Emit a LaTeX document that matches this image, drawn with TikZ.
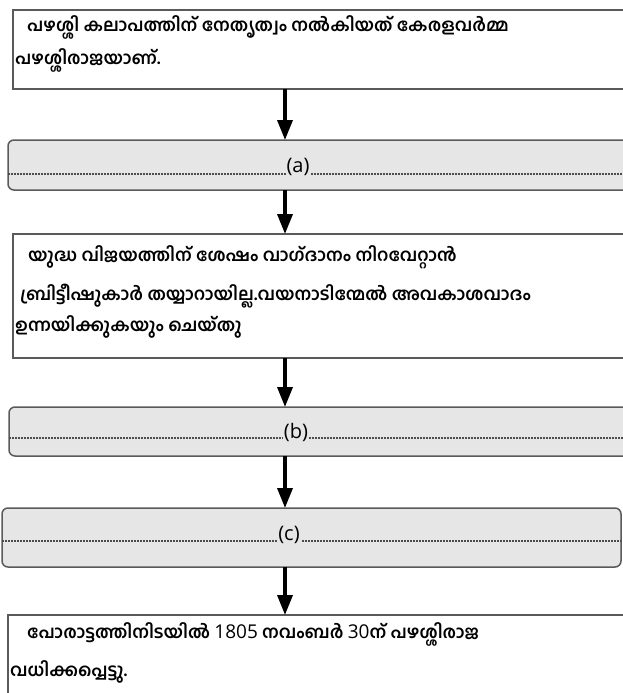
\documentclass[tikz,border=0pt]{standalone}
\usepackage{fontspec}
\newfontfamily\ml[Script=Malayalam]{Hind Kochi}
\newfontfamily\numf{Open Sans}
\usetikzlibrary{arrows.meta}
\definecolor{boxgray}{HTML}{E6E6E6}
\definecolor{edge}{HTML}{5A5A5A}
\newcommand{\nm}[1]{{\numf\mdseries\fontsize{19}{20}\selectfont #1}}
\begin{document}
\begin{tikzpicture}[x=1pt,y=-1pt,
  plainbox/.style={draw=edge,line width=1.5pt,fill=white,rectangle,inner sep=0pt,outer sep=0pt,anchor=north west},
  graybox/.style={draw=edge,line width=1.5pt,fill=boxgray,rectangle,rounded corners=6pt,inner sep=0pt,outer sep=0pt,anchor=north west},
  txt/.style={anchor=base west,inner sep=0pt,font=\ml\bfseries\fontsize{17.5}{20}\selectfont},
  lbl/.style={inner sep=0pt,font=\numf\fontsize{20}{22}\selectfont},
  dotline/.style={draw=black!70,line width=1.3pt,dash pattern=on 1.5pt off 1.5pt},
  arr/.style={line width=3.5pt,-{Triangle[width=15pt,length=20pt]}}]
\useasboundingbox (0,0) rectangle (623,693);
\clip (0,0) rectangle (623,693);
% boxes
\node[plainbox,minimum width=620pt,minimum height=79pt] (b1) at (13,10) {};
\node[graybox,minimum width=630pt,minimum height=50pt] (ba) at (8,140) {};
\node[plainbox,minimum width=620pt,minimum height=124pt] (b2) at (13,234) {};
\node[graybox,minimum width=630pt,minimum height=49pt] (bb) at (9,407) {};
\node[graybox,minimum width=619pt,minimum height=59pt] (bc) at (2,508) {};
\node[plainbox,minimum width=620pt,minimum height=90pt] (b3) at (8,615) {};
% arrow axis
\coordinate (ax) at (285,0);
\draw[arr] (b1.south west -| ax) -- (ba.north west -| ax);
\draw[arr] (ba.south west -| ax) -- (b2.north west -| ax);
\draw[arr] (b2.south west -| ax) -- (bb.north west -| ax);
\draw[arr] (bb.south west -| ax) -- (bc.north west -| ax);
\draw[arr] (bc.south west -| ax) -- (b3.north west -| ax);
% text box 1
\node[txt] (t11) at (27,32) {പഴശ്ശി കലാപത്തിന് നേതൃത്വം നൽകിയത് കേരളവർമ്മ};
\node[txt] (t12) at (15,65) {പഴശ്ശിരാജയാണ്.};
% box a
\coordinate (da) at (8,174);
\draw[dotline] (da) -- (623,174);
\node[lbl,fill=boxgray,inner xsep=1pt] (la) at (298,167) {(a)};
% text box 2
\node[txt] (t21) at (28,261) {യുദ്ധ വിജയത്തിന് ശേഷം വാഗ്ദാനം നിറവേറ്റാൻ};
\node[txt] (t22) at (20,300) {ബ്രിട്ടീഷുകാർ തയ്യാറായില്ല.വയനാടിന്മേൽ അവകാശവാദം};
\node[txt] (t23) at (15,331) {ഉന്നയിക്കുകയും ചെയ്തു};
% box b
\draw[dotline] (9,438) -- (623,438);
\node[lbl,fill=boxgray,inner xsep=1pt] (lb) at (296,432) {(b)};
% box c
\draw[dotline] (2,541) -- (621,541);
\node[lbl,fill=boxgray,inner xsep=1pt] (lc) at (289,535) {(c)};
% text box 4
\node[txt] (t31) at (27,638) {പോരാട്ടത്തിനിടയിൽ \nm{1805} നവംബർ \nm{30}ന് പഴശ്ശിരാജ};
\node[txt] (t32) at (10,676) {വധിക്കപ്പെട്ടു.};
\end{tikzpicture}
\end{document}
